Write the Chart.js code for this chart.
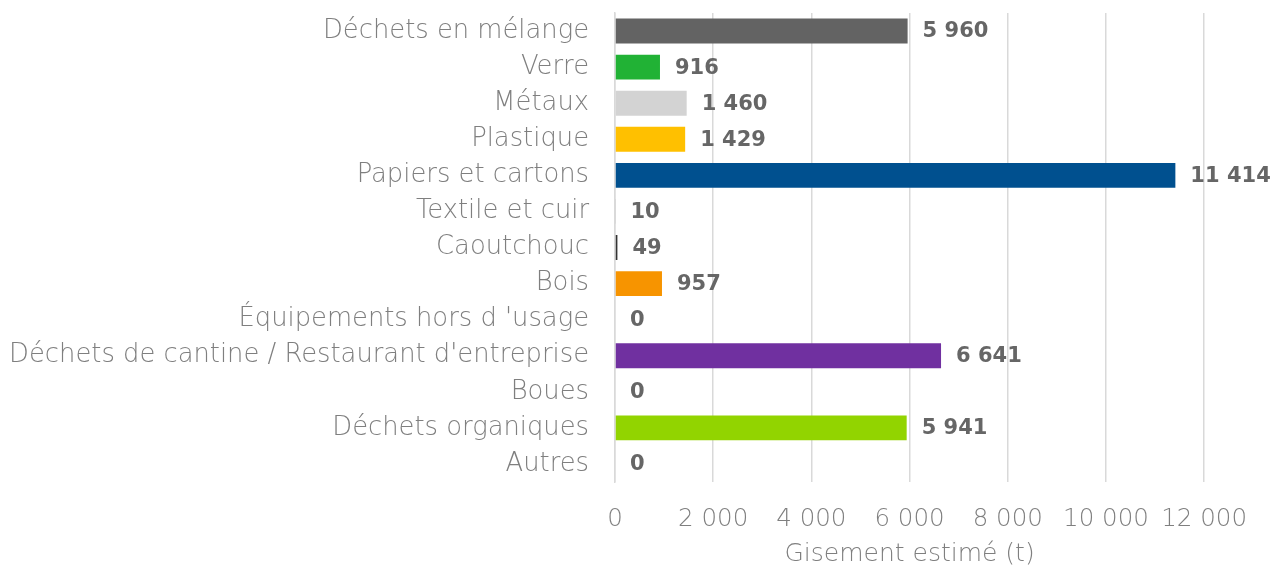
<!DOCTYPE html>
<html lang="fr">
<head>
<meta charset="utf-8">
<title>Gisement estimé</title>
<script src="https://cdn.jsdelivr.net/npm/chart.js@4/dist/chart.umd.min.js"></script>
<style>
  html, body { margin: 0; padding: 0; background: #fff; }
  #wrap { width: 1270px; height: 569px; position: relative; }
</style>
</head>
<body>
<div id="wrap"><canvas id="gisementChart"></canvas></div>
<script>
// ===== data =====
const categories = [
  'Déchets en mélange',
  'Verre',
  'Métaux',
  'Plastique',
  'Papiers et cartons',
  'Textile et cuir',
  'Caoutchouc',
  'Bois',
  "Équipements hors d 'usage",
  "Déchets de cantine / Restaurant d'entreprise",
  'Boues',
  'Déchets organiques',
  'Autres'
];
const gisement = [5960, 916, 1460, 1429, 11414, 10, 49, 957, 0, 6641, 0, 5941, 0];
const barColors = [
  '#636363', '#21b235', '#d3d3d3', '#ffc000', '#00508f', '#bfbfbf', '#333333',
  '#f79400', '#a5a5a5', '#7030a0', '#a5a5a5', '#92d400', '#a5a5a5'
];
const xTicks = [0, 2000, 4000, 6000, 8000, 10000, 12000];
const axisTitle = 'Gisement estimé (t)';

const FONT = "'DejaVu Sans', 'Open Sans', sans-serif";

// 11414 -> "11 414"
function fmt(v) {
  return String(v).replace(/\B(?=(\d{3})+(?!\d))/g, ' ');
}

// ==================== value labels at bar end ====================
const valueLabels = {
  id: 'valueLabels',
  afterDatasetsDraw(chart) {
    const ctx = chart.ctx;
    const meta = chart.getDatasetMeta(0);
    ctx.save();
    ctx.font = "bold 21px " + FONT;
    ctx.fillStyle = '#666666';
    ctx.textAlign = 'left';
    ctx.textBaseline = 'middle';
    meta.data.forEach((bar, i) => {
      ctx.fillText(fmt(gisement[i]), bar.x + 15, bar.y + 1);
    });
    ctx.restore();
  }
};

new Chart(document.getElementById('gisementChart'), {
  type: 'bar',
  data: {
    labels: categories,
    datasets: [{
      data: gisement,
      backgroundColor: barColors,
      borderWidth: 0,
      barPercentage: 0.69,
      categoryPercentage: 1.0
    }]
  },
  options: {
    indexAxis: 'y',
    responsive: true,
    maintainAspectRatio: false,
    animation: false,
    layout: { padding: { top: 13, right: 61, left: 0, bottom: 0 } },
    plugins: {
      legend: { display: false },
      tooltip: { enabled: false }
    },
    scales: {
      x: {
        min: 0,
        max: 12000,
        afterBuildTicks: (s) => { s.ticks = xTicks.map(v => ({ value: v })); },
        afterFit: (s) => { s.height = 87; },
        grid: { color: '#d9d9d9', lineWidth: 1.5, drawTicks: false },
        border: { display: false },
        ticks: {
          padding: 23,
          color: '#7f7f7f',
          font: { family: FONT, size: 24.5, weight: '200' },
          callback: (v) => fmt(v)
        },
        title: {
          display: true,
          text: axisTitle,
          color: '#7f7f7f',
          font: { family: FONT, size: 25, weight: '200' },
          padding: { top: 0, bottom: 0 }
        }
      },
      y: {
        // label padding would otherwise push the plot area down
        afterFit: (s) => { s.width = 615; s.paddingTop = 0; s.paddingBottom = 0; },
        grid: { display: false, drawTicks: false },
        border: { display: true, color: '#d9d9d9', width: 1.5 },
        ticks: {
          padding: 26,
          color: '#7f7f7f',
          font: { family: FONT, size: 25.8, weight: '200' },
          autoSkip: false
        }
      }
    }
  },
  plugins: [valueLabels]
});
</script>
</body>
</html>
